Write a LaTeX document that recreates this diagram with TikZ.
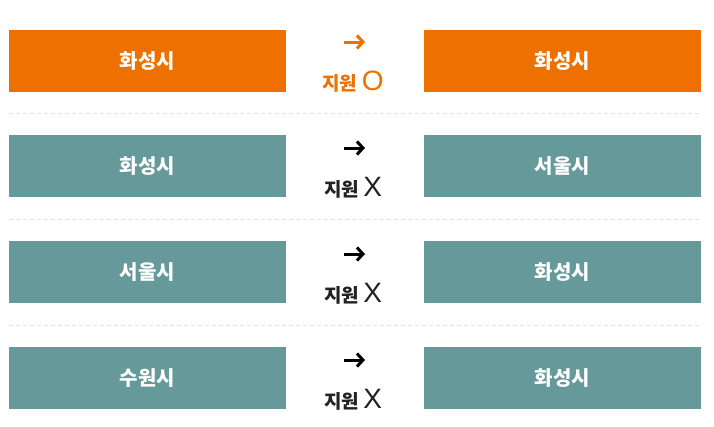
\documentclass[tikz,border=0pt]{standalone}
\usepackage{fontspec}
\setmainfont{Noto Sans CJK KR}
\newfontfamily\markfamily{Liberation Sans}
\usepackage{tikz}
\usetikzlibrary{arrows.meta}

\definecolor{suwonorange}{RGB}{238,113,0}
\definecolor{cityteal}{RGB}{102,153,153}
\definecolor{notegray}{RGB}{34,34,34}
\definecolor{rulegray}{RGB}{226,226,226}

\newcommand{\bigmark}[1]{{\markfamily\fontsize{28}{30}\selectfont\mdseries #1}}

\tikzset{
  citybox/.style={fill=#1, text=white, minimum width=277pt, minimum height=62pt,
    inner sep=0pt, font=\fontsize{20}{22}\selectfont\bfseries},
  citybox/.default=cityteal,
  movearrow/.style={line width=3pt, -{Straight Barb[length=6pt,width=13pt,line width=3pt]}},
  notelabel/.style={anchor=base, inner sep=0pt, font=\fontsize{19}{22}\selectfont\bfseries},
  rowrule/.style={rulegray, line width=0.8pt, dash pattern=on 4pt off 3pt}
}

\begin{document}
\begin{tikzpicture}[x=1pt, y=-1pt]
        % Fix the page to the reference size
        \useasboundingbox (0,0) rectangle (714,426);

        % Row 1: supported move
        \node[citybox=suwonorange] (from1) at (147.5,61) {화성시};
        \node[citybox=suwonorange] (to1) at (562.5,61) {화성시};
        \coordinate (tail1) at (344,42);
        \coordinate (head1) at (365,42);
        \draw[movearrow, suwonorange] (tail1) -- (head1);
        \node[notelabel, text=suwonorange] (note1) at (353,90) {지원 \bigmark{O}};

        \draw[rowrule] (9,113) coordinate (rule1a) -- (701,113) coordinate (rule1b);

        % Row 2
        \node[citybox] (from2) at (147.5,166) {화성시};
        \node[citybox] (to2) at (562.5,166) {서울시};
        \coordinate (tail2) at (344,148);
        \coordinate (head2) at (365,148);
        \draw[movearrow, black] (tail2) -- (head2);
        \node[notelabel, text=notegray] (note2) at (353,196) {지원 \bigmark{X}};

        \draw[rowrule] (9,219) coordinate (rule2a) -- (701,219) coordinate (rule2b);

        % Row 3
        \node[citybox] (from3) at (147.5,272) {서울시};
        \node[citybox] (to3) at (562.5,272) {화성시};
        \coordinate (tail3) at (344,254);
        \coordinate (head3) at (365,254);
        \draw[movearrow, black] (tail3) -- (head3);
        \node[notelabel, text=notegray] (note3) at (353,302) {지원 \bigmark{X}};

        \draw[rowrule] (9,325) coordinate (rule3a) -- (701,325) coordinate (rule3b);

        % Row 4
        \node[citybox] (from4) at (147.5,378) {수원시};
        \node[citybox] (to4) at (562.5,378) {화성시};
        \coordinate (tail4) at (344,360);
        \coordinate (head4) at (365,360);
        \draw[movearrow, black] (tail4) -- (head4);
        \node[notelabel, text=notegray] (note4) at (353,408) {지원 \bigmark{X}};

    \end{tikzpicture}
\end{document}
